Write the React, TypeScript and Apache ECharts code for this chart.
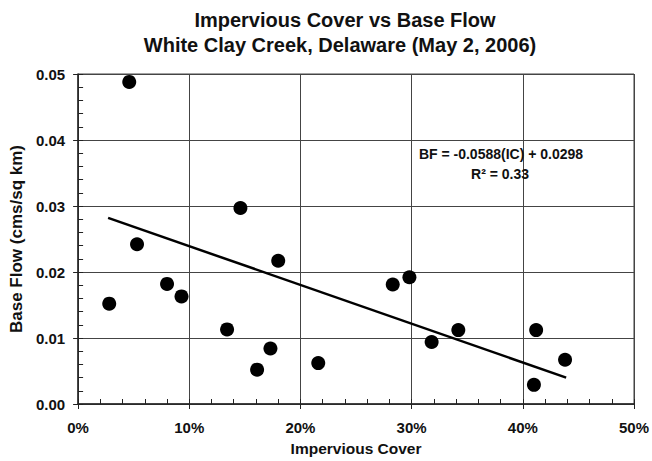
import React, { useEffect, useRef } from "react";
import * as echarts from "echarts";

const titleLines = ["Impervious Cover vs Base Flow", "White Clay Creek, Delaware (May 2, 2006)"];
const xName = "Impervious Cover";
const yName = "Base Flow (cms/sq km)";

// impervious cover (fraction), base flow (cms/sq km)
const impervious = [0.028, 0.046, 0.053, 0.080, 0.093, 0.134, 0.146, 0.161, 0.173, 0.180, 0.216, 0.283, 0.298, 0.318, 0.342, 0.410, 0.412, 0.438];
const baseFlow = [0.0152, 0.0488, 0.0242, 0.0182, 0.0163, 0.0113, 0.0297, 0.0052, 0.0084, 0.0217, 0.0062, 0.0181, 0.0192, 0.0094, 0.0112, 0.0029, 0.0112, 0.0067];

const trendX = [0.027, 0.439];
const trendY = [0.0282, 0.0040];

const equationText = "BF = -0.0588(IC) + 0.0298";
const r2Text = "R² = 0.33";

export default function App() {
  const ref = useRef<HTMLDivElement>(null);
  useEffect(() => {
    if (!ref.current) return;
    const chart = echarts.init(ref.current, null, { renderer: "svg" });
    const font = "Liberation Sans, Arial, sans-serif";
    const axisColor = "#222";
    const gridColor = "#444";
    chart.setOption({
      animation: false,
      backgroundColor: "#fff",
      textStyle: { fontFamily: font },
      grid: {
        left: 77,
        right: 16,
        top: 74,
        bottom: 57,
        show: true,
        borderColor: gridColor,
        borderWidth: 1,
      },
      xAxis: [
        {
          type: "value",
          min: 0,
          max: 0.5,
          interval: 0.1,
          name: xName,
          nameLocation: "middle",
          nameGap: 36,
          nameTextStyle: { fontSize: 15.5, fontWeight: "bold", color: "#111", fontFamily: font },
          axisLine: { lineStyle: { color: axisColor, width: 1.5 } },
          axisTick: { show: true, inside: false, length: 5, lineStyle: { color: axisColor } },
          axisLabel: {
            fontSize: 15,
            fontWeight: "bold",
            color: "#111",
            margin: 16,
            formatter: (v: number) => Math.round(v * 100) + "%",
          },
          splitLine: { show: true, lineStyle: { color: gridColor, width: 1 } },
        },
        {
          type: "value",
          min: 0,
          max: 0.5,
          interval: 0.02,
          position: "bottom",
          axisLine: { show: false },
          axisTick: { show: true, inside: true, length: 5, lineStyle: { color: axisColor } },
          axisLabel: { show: false },
          splitLine: { show: false },
        },
      ],
      yAxis: [
        {
          type: "value",
          min: 0,
          max: 0.05,
          interval: 0.01,
          name: yName,
          nameLocation: "middle",
          nameGap: 52,
          nameTextStyle: { fontSize: 17, fontWeight: "bold", color: "#111", fontFamily: font },
          axisLine: { show: true, lineStyle: { color: axisColor, width: 1.5 } },
          axisTick: { show: true, inside: false, length: 5, lineStyle: { color: axisColor } },
          axisLabel: {
            fontSize: 15,
            fontWeight: "bold",
            color: "#111",
            margin: 13,
            formatter: (v: number) => v.toFixed(2),
          },
          splitLine: { show: true, lineStyle: { color: gridColor, width: 1 } },
        },
        {
          type: "value",
          min: 0,
          max: 0.05,
          interval: 0.002,
          position: "left",
          axisLine: { show: false },
          axisTick: { show: true, inside: true, length: 5, lineStyle: { color: axisColor } },
          axisLabel: { show: false },
          splitLine: { show: false },
        },
      ],
      series: [
        {
          type: "scatter",
          xAxisIndex: 0,
          yAxisIndex: 0,
          symbol: "circle",
          symbolSize: 14,
          itemStyle: { color: "#000", opacity: 1 },
          data: impervious.map((x, i) => [x, baseFlow[i]]),
          z: 3,
        },
        {
          type: "line",
          xAxisIndex: 0,
          yAxisIndex: 0,
          showSymbol: false,
          symbol: "none",
          lineStyle: { color: "#000", width: 2.5 },
          data: trendX.map((x, i) => [x, trendY[i]]),
          z: 2,
        },
      ],
      graphic: [
        {
          type: "text",
          x: 345,
          y: 20,
          style: {
            text: titleLines[0],
            fontSize: 20,
            fontWeight: "bold",
            fontFamily: font,
            fill: "#111",
            textAlign: "center",
            textVerticalAlign: "middle",
          },
        },
        {
          type: "text",
          x: 340,
          y: 45,
          style: {
            text: titleLines[1],
            fontSize: 20,
            fontWeight: "bold",
            fontFamily: font,
            fill: "#111",
            textAlign: "center",
            textVerticalAlign: "middle",
          },
        },
        {
          type: "text",
          x: 501,
          y: 154,
          z: 10,
          style: {
            text: equationText,
            fontSize: 14,
            fontWeight: "bold",
            fontFamily: font,
            fill: "#111",
            textAlign: "center",
            textVerticalAlign: "middle",
          },
        },
        {
          type: "text",
          x: 500,
          y: 174,
          z: 10,
          style: {
            text: r2Text,
            fontSize: 14,
            fontWeight: "bold",
            fontFamily: font,
            fill: "#111",
            textAlign: "center",
            textVerticalAlign: "middle",
          },
        },
      ],
    });
    return () => chart.dispose();
  }, []);
  return (
    <div
      ref={ref}
      style={{ position: "fixed", left: 0, top: 0, width: 652, height: 461 }}
    />
  );
}
